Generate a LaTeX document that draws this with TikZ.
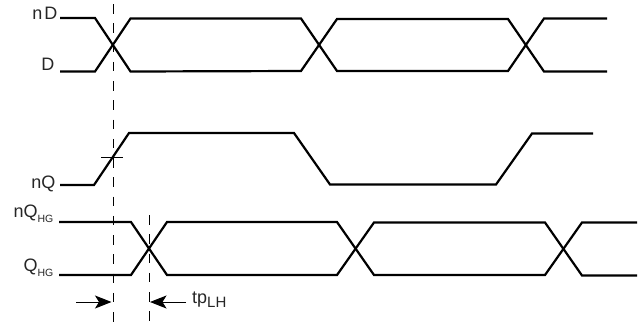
\documentclass[tikz,border=0pt]{standalone}
\usepackage{fontspec}
\setmainfont{Liberation Sans}
\usetikzlibrary{arrows.meta}
\tikzset{
  x=1pt,y=-1pt,
  trace/.style={line width=2.2pt,line join=miter,line cap=butt,black},
  guide/.style={line width=0.9pt,black,dash pattern=on 9.6pt off 9.65pt},
  dim/.style={line width=1pt,black,-{Stealth[length=16.5pt,width=13pt,inset=4pt]}},
  lab/.style={inner sep=0pt,text=black!85,font=\fontsize{18}{20}\selectfont},
}
\newcommand{\subs}[1]{\raisebox{-5pt}{\fontsize{10.5}{11}\selectfont #1}}
\begin{document}
\begin{tikzpicture}
\useasboundingbox (0,0) rectangle (640,322);
\fill[white] (0,0) rectangle (640,322);
% guides
\coordinate (g1t) at (113,4); \coordinate (g1b) at (113,322);
\coordinate (g2t) at (149,215); \coordinate (g2b) at (149,322);
\draw[guide] (g1t) -- (g1b);
\draw[guide] (g2t) -- (g2b);
% D pair
\draw[trace] (60,18) -- (95,18) -- (130.5,71.5) -- (301,71) -- (337,19) -- (508,19) -- (544,71.5) -- (607,71.5);
\draw[trace] (60,71.5) -- (95,71.5) -- (130.5,18.5) -- (301,18.5) -- (337,71) -- (508,71) -- (544,18.5) -- (607,18.5);
% nQ
\draw[trace] (60,185) -- (94,185) -- (129,133) -- (294,133) -- (330,184.5) -- (496,184.5) -- (532,133.5) -- (593,133.5);
\draw[line width=0.9pt] (101,157) -- (123,157);
% HG pair
\draw[trace] (59,222) -- (131,222) -- (167,275) -- (337,275) -- (374,222.5) -- (545,222.5) -- (582,275.5) -- (637,275.5);
\draw[trace] (59,275) -- (131,275) -- (167,222) -- (337,222) -- (374,275) -- (545,275) -- (582,222.5) -- (637,222.5);
% arrows
\coordinate (a1s) at (76,302); \coordinate (a1e) at (111.5,302);
\coordinate (a2s) at (186,302); \coordinate (a2e) at (150,302);
\draw[dim] (a1s) -- (a1e);
\draw[dim] (a2s) -- (a2e);
% labels
\node[lab,anchor=base east] (nD) at (57.5,19.5) {n\kern 2pt D};
\node[lab,anchor=base east] (D) at (54.5,70) {D};
\node[lab,anchor=base east] (nQ) at (55.5,188) {nQ};
\node[lab,anchor=base east] (nQHG) at (53.5,217) {nQ\subs{HG}};
\node[lab,anchor=base east] (QHG) at (53.5,271) {Q\subs{HG}};
\node[lab,anchor=base west] (tp) at (192,303) {tp\raisebox{-4.5pt}{\fontsize{15}{15}\selectfont LH}};
\end{tikzpicture}
\end{document}
